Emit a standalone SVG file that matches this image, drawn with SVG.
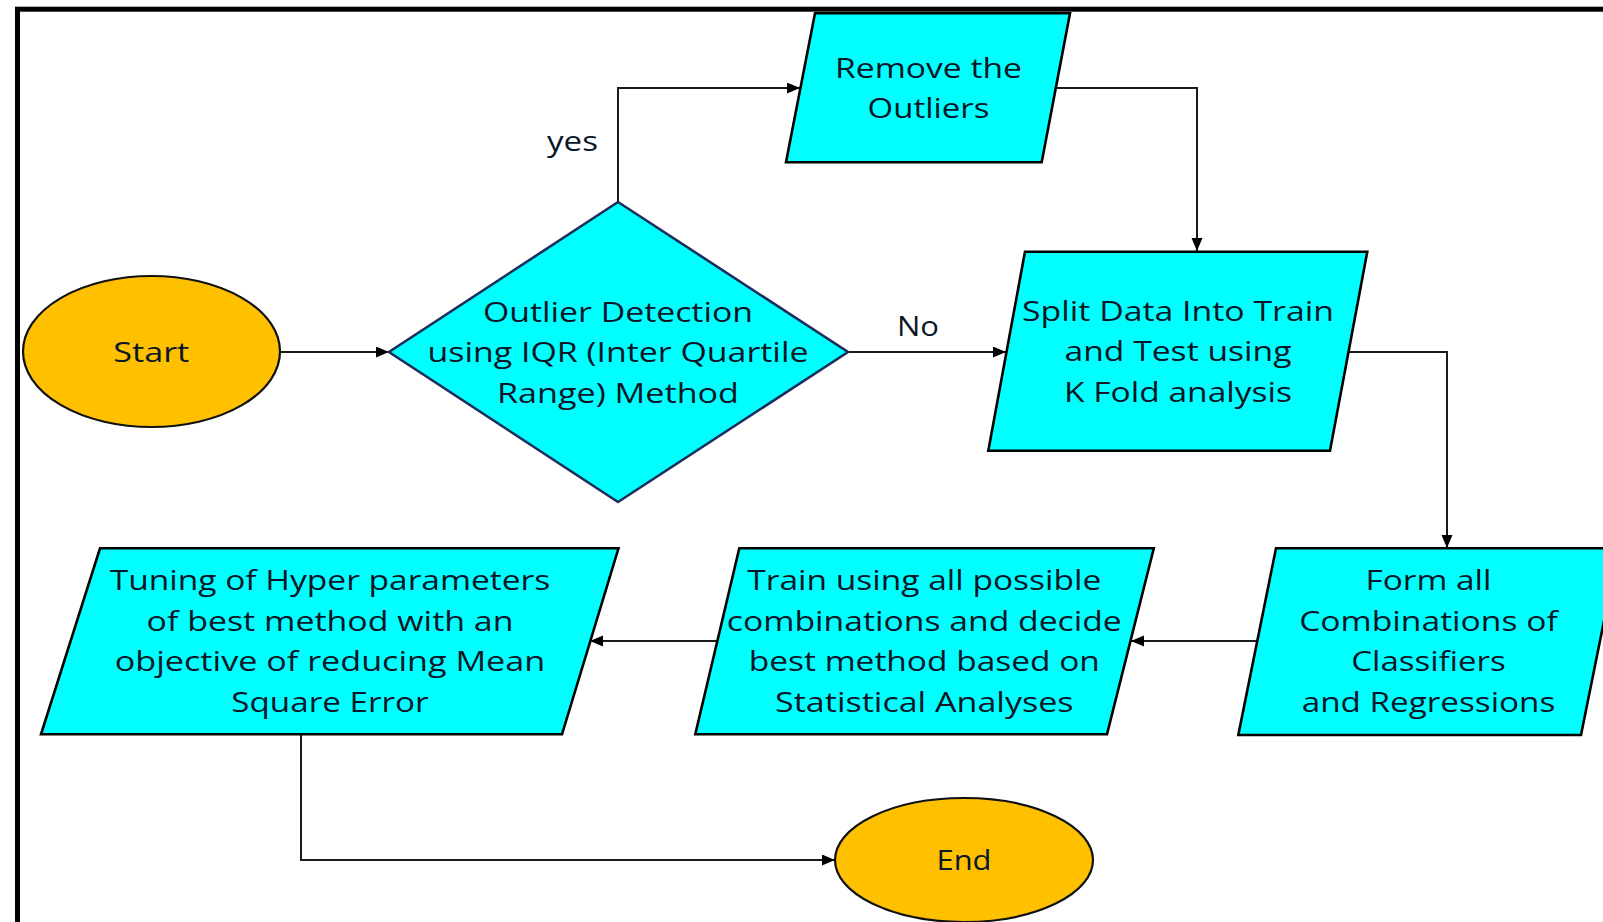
<svg xmlns="http://www.w3.org/2000/svg" width="1603" height="922" viewBox="0 0 1603 922">
<style>
.t{font-family:"Open Sans","Liberation Sans",sans-serif;font-size:28px;fill:#0b1626;text-anchor:middle;}
.l{font-family:"Open Sans","Liberation Sans",sans-serif;font-size:28px;fill:#0b1626;}
.para{fill:#00ffff;stroke:#000;stroke-width:2.6;stroke-linejoin:miter;}
.dia{fill:#00ffff;stroke:#1c2f5c;stroke-width:2.6;}
.term{fill:#ffc000;stroke:#111;stroke-width:2.2;}
.c{fill:none;stroke:#1a1a1a;stroke-width:2;marker-end:url(#ah);}
</style>
<defs>
<marker id="ah" markerUnits="userSpaceOnUse" markerWidth="14" markerHeight="12" refX="13" refY="5.5" orient="auto">
<path d="M0,0 L13,5.5 L0,11 z" fill="#000"/>
</marker>
</defs>
<rect x="0" y="0" width="1603" height="922" fill="#fff"/>
<rect x="17.5" y="9.2" width="1620" height="940" fill="none" stroke="#000" stroke-width="5"/>

<g id="connectors">
<path class="c" d="M280,352 H389"/>
<path class="c" d="M618,202 V88 H800"/>
<path class="c" d="M848,352 H1006"/>
<path class="c" d="M1055,88 H1197 V251"/>
<path class="c" d="M1348,352 H1447 V548"/>
<path class="c" d="M1257,641 H1131"/>
<path class="c" d="M717,641 H590"/>
<path class="c" d="M301,734 V860 H835"/>
<text class="l" x="547" y="151" textLength="51" lengthAdjust="spacingAndGlyphs">yes</text>
<text class="l" x="897" y="336" textLength="42" lengthAdjust="spacingAndGlyphs">No</text>
</g>

<g id="start">
<ellipse class="term" cx="151.5" cy="351.5" rx="128.5" ry="75.5"/>
<text class="t" x="151.3" y="361.5" textLength="76" lengthAdjust="spacingAndGlyphs">Start</text>
</g>

<g id="outlier-detection">
<polygon class="dia" points="618,202 848,352 618,502 389,352"/>
<text class="t" x="618" y="321.5" textLength="270" lengthAdjust="spacingAndGlyphs">Outlier Detection</text>
<text class="t" x="618" y="362" textLength="381" lengthAdjust="spacingAndGlyphs">using IQR (Inter Quartile</text>
<text class="t" x="618" y="402.5" textLength="242" lengthAdjust="spacingAndGlyphs">Range) Method</text>
</g>

<g id="remove-outliers">
<polygon class="para" points="815,13.3 1070,13.3 1041.7,162.3 786,162.3"/>
<text class="t" x="928.5" y="77.5" textLength="187" lengthAdjust="spacingAndGlyphs">Remove the</text>
<text class="t" x="928.5" y="118" textLength="122" lengthAdjust="spacingAndGlyphs">Outliers</text>
</g>

<g id="split-data">
<polygon class="para" points="1025,251.7 1367.3,251.7 1330,450.7 988.3,450.7"/>
<text class="t" x="1178" y="320.5" textLength="312" lengthAdjust="spacingAndGlyphs">Split Data Into Train</text>
<text class="t" x="1178" y="361" textLength="227" lengthAdjust="spacingAndGlyphs">and Test using</text>
<text class="t" x="1178" y="401.5" textLength="228" lengthAdjust="spacingAndGlyphs">K Fold analysis</text>
</g>

<g id="form-combinations">
<polygon class="para" points="1276,548.3 1618.7,548.3 1581,735 1238.3,735"/>
<text class="t" x="1428.5" y="590" textLength="126" lengthAdjust="spacingAndGlyphs">Form all</text>
<text class="t" x="1428.5" y="630.5" textLength="258.6" lengthAdjust="spacingAndGlyphs">Combinations of</text>
<text class="t" x="1428.5" y="671" textLength="154.4" lengthAdjust="spacingAndGlyphs">Classifiers</text>
<text class="t" x="1428.5" y="711.5" textLength="253.5" lengthAdjust="spacingAndGlyphs">and Regressions</text>
</g>

<g id="train-combinations">
<polygon class="para" points="739.3,548.3 1153.8,548.3 1107,734.3 695.3,734.3"/>
<text class="t" x="924.3" y="590" textLength="354" lengthAdjust="spacingAndGlyphs">Train using all possible</text>
<text class="t" x="924.3" y="630.5" textLength="395" lengthAdjust="spacingAndGlyphs">combinations and decide</text>
<text class="t" x="924.3" y="671" textLength="351" lengthAdjust="spacingAndGlyphs">best method based on</text>
<text class="t" x="924.3" y="711.5" textLength="298.5" lengthAdjust="spacingAndGlyphs">Statistical Analyses</text>
</g>

<g id="tuning">
<polygon class="para" points="100,548.3 618.5,548.3 562,734.3 41,734.3"/>
<text class="t" x="330" y="590" textLength="440.6" lengthAdjust="spacingAndGlyphs">Tuning of Hyper parameters</text>
<text class="t" x="330" y="630.5" textLength="367" lengthAdjust="spacingAndGlyphs">of best method with an</text>
<text class="t" x="330" y="671" textLength="430.4" lengthAdjust="spacingAndGlyphs">objective of reducing Mean</text>
<text class="t" x="330" y="711.5" textLength="197.3" lengthAdjust="spacingAndGlyphs">Square Error</text>
</g>

<g id="end">
<ellipse class="term" cx="964" cy="860" rx="129" ry="62" stroke-width="1.6"/>
<text class="t" x="964" y="870" textLength="55" lengthAdjust="spacingAndGlyphs">End</text>
</g>
</svg>
